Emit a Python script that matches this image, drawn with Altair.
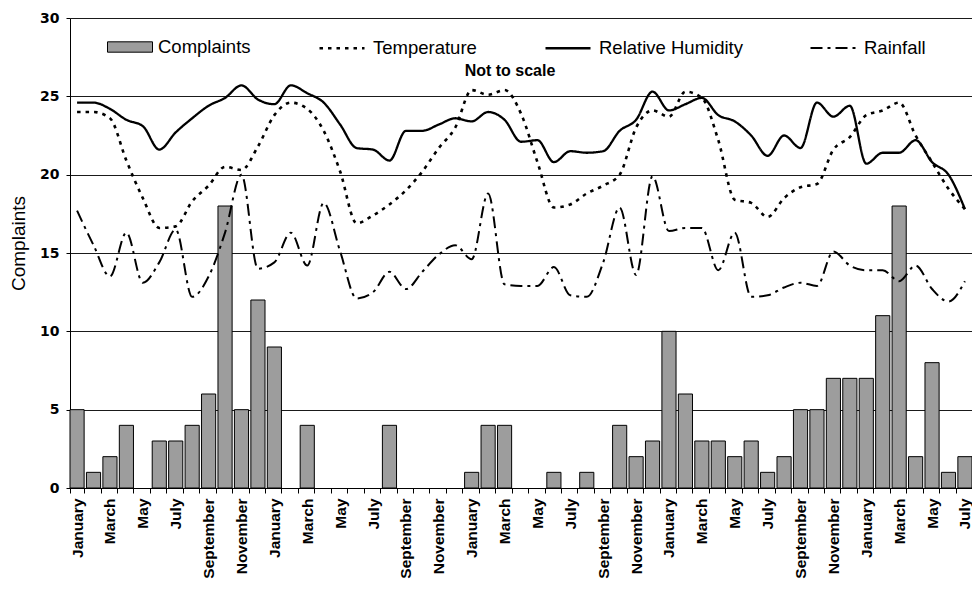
import json

import altair as alt
import pandas as pd

# Month names used for the x-axis tick labels (every second month is labelled)
MONTHS = ["January", "February", "March", "April", "May", "June", "July",
          "August", "September", "October", "November", "December"]
N_MONTHS = 55  # January of year 1 through July of year 5
month_labels = [MONTHS[i % 12] for i in range(N_MONTHS)]

# Monthly complaint counts
complaints = [
    5, 1, 2, 4, 0, 3, 3, 4, 6, 18, 5, 12,
    9, 0, 4, 0, 0, 0, 0, 4, 0, 0, 0, 0,
    1, 4, 4, 0, 0, 1, 0, 1, 0, 4, 2, 3,
    10, 6, 3, 3, 2, 3, 1, 2, 5, 5, 7, 7,
    7, 11, 18, 2, 8, 1, 2,
]

# Climate series, drawn on the same axis (not to scale)
temperature = [
    24.0, 24.0, 23.6, 20.9, 18.5, 16.6, 16.7, 18.3, 19.3, 20.5, 20.3, 21.8,
    23.8, 24.6, 24.2, 22.8, 20.2, 16.9, 17.4, 18.1, 19.0, 20.2, 21.7, 23.0,
    25.4, 25.1, 25.4, 23.9, 20.8, 17.9, 18.1, 18.8, 19.3, 20.0, 23.0, 24.1,
    23.7, 25.3, 24.9, 22.2, 18.4, 18.2, 17.3, 18.5, 19.2, 19.4, 21.6, 22.4,
    23.8, 24.1, 24.6, 22.5, 20.8, 19.1, 17.8,
]
humidity = [
    24.6, 24.6, 24.2, 23.5, 23.1, 21.6, 22.7, 23.6, 24.4, 24.9, 25.7, 24.8,
    24.5, 25.7, 25.2, 24.6, 23.2, 21.7, 21.6, 20.9, 22.8, 22.8, 23.2, 23.6,
    23.4, 24.0, 23.5, 22.1, 22.2, 20.8, 21.5, 21.4, 21.5, 22.8, 23.5, 25.3,
    24.1, 24.5, 24.9, 23.8, 23.4, 22.5, 21.2, 22.5, 21.7, 24.6, 23.7, 24.4,
    20.7, 21.4, 21.4, 22.2, 20.8, 20.0, 17.8,
]
rainfall = [
    17.7, 15.5, 13.5, 16.3, 13.1, 14.4, 16.5, 12.2, 13.5, 16.3, 20.0, 14.0,
    14.4, 16.3, 14.2, 18.2, 15.1, 12.1, 12.5, 13.8, 12.7, 13.8, 14.9, 15.5,
    14.6, 18.8, 13.0, 12.9, 12.9, 14.1, 12.3, 12.2, 14.4, 17.9, 13.6, 19.9,
    16.4, 16.6, 16.6, 13.9, 16.3, 12.2, 12.3, 12.8, 13.1, 12.9, 15.1, 14.2,
    13.9, 13.9, 13.2, 14.2, 12.7, 11.9, 13.2,
]

SERIES = ["Temperature", "Relative Humidity", "Rainfall"]

bars_df = pd.DataFrame({
    "idx": list(range(N_MONTHS)),
    "Complaints": complaints,
    "key": ["Complaints"] * N_MONTHS,
})

lines_df = pd.concat([
    pd.DataFrame({"idx": list(range(N_MONTHS)), "value": vals, "series": name})
    for name, vals in zip(SERIES, [temperature, humidity, rainfall])
], ignore_index=True)

FONT = "Liberation Sans"

label_expr = (
    "datum.value % 2 == 0 ? " + json.dumps(month_labels) + "[datum.value] : ''"
)

x_enc = alt.X(
    "idx:O",
    scale=alt.Scale(paddingInner=0.14, paddingOuter=0),
    axis=alt.Axis(
        title=None,
        labelExpr=label_expr,
        labelAngle=-90,
        labelFont=FONT,
        labelFontWeight="bold",
        labelFontSize=15.5,
        labelColor="black",
        labelPadding=5,
        labelOverlap=False,
        tickBand="extent",
        tickSize=5,
        tickColor="black",
        domainColor="black",
        grid=False,
    ),
)

y_enc = alt.Y(
    "Complaints:Q",
    scale=alt.Scale(domain=[0, 30], nice=False),
    axis=alt.Axis(
        values=[0, 5, 10, 15, 20, 25, 30],
        title="Complaints",
        titleFont=FONT,
        titleFontSize=19,
        titleFontWeight="normal",
        titleColor="black",
        titleX=-52,
        titleY=225,
        titleAngle=-90,
        titleAlign="center",
        titleBaseline="middle",
        labelFont="DejaVu Sans",
        labelFontWeight="bold",
        labelFontSize=14,
        labelColor="black",
        labelPadding=7,
        tickSize=4,
        tickColor="black",
        domainColor="black",
        grid=True,
        gridColor="#1a1a1a",
        gridWidth=1,
    ),
)

# Months without complaints get no bar at all
bars = alt.Chart(bars_df).transform_filter(
    "datum.Complaints > 0"
).mark_bar(stroke="black", strokeWidth=1).encode(
    x=x_enc,
    y=y_enc,
    fill=alt.Fill(
        "key:N",
        scale=alt.Scale(domain=["Complaints"], range=["#9d9d9d"]),
        legend=alt.Legend(
            title=None,
            orient="none",
            legendX=37,
            legendY=6,
            padding=0,
            symbolType="M-1,-0.23H1V0.23H-1Z",
            symbolSize=2025,
            symbolStrokeColor="black",
            symbolStrokeWidth=1,
            labelFont=FONT,
            labelFontSize=18.5,
            labelColor="black",
            labelOffset=5,
        ),
    ),
)

lines = alt.Chart(lines_df).mark_line(
    color="black", interpolate="monotone", strokeCap="butt"
).encode(
    x=alt.X("idx:O"),
    y=alt.Y("value:Q"),
    detail="series:N",
    strokeDash=alt.StrokeDash(
        "series:N",
        scale=alt.Scale(domain=SERIES, range=[[3.5, 5], [1, 0], [12, 5, 3, 5]]),
        legend=alt.Legend(
            title=None,
            orient="none",
            direction="horizontal",
            columns=3,
            legendX=248,
            legendY=6,
            padding=0,
            symbolType="stroke",
            symbolSize=2025,
            symbolStrokeColor="black",
            symbolStrokeWidth=2.2,
            labelFont=FONT,
            labelFontSize=18.5,
            labelColor="black",
            labelOffset=7,
            columnPadding=63,
        ),
    ),
    strokeWidth=alt.StrokeWidth(
        "series:N",
        scale=alt.Scale(domain=SERIES, range=[2.6, 2.0, 2.6]),
        legend=None,
    ),
)

note = alt.Chart(pd.DataFrame({"t": ["Not to scale"]})).mark_text(
    font=FONT, fontSize=16, fontWeight="bold", color="black"
).encode(
    x=alt.value(440),
    y=alt.value(53),
    text="t:N",
)

chart = alt.layer(bars, lines, note).properties(
    width=902,
    height=470,
    autosize="none",
    padding={"left": 70, "top": 18, "right": 0, "bottom": 103},
    background="white",
).configure_view(stroke=None)

chart.save("out.html", embed_options={"renderer": "svg", "actions": False})
